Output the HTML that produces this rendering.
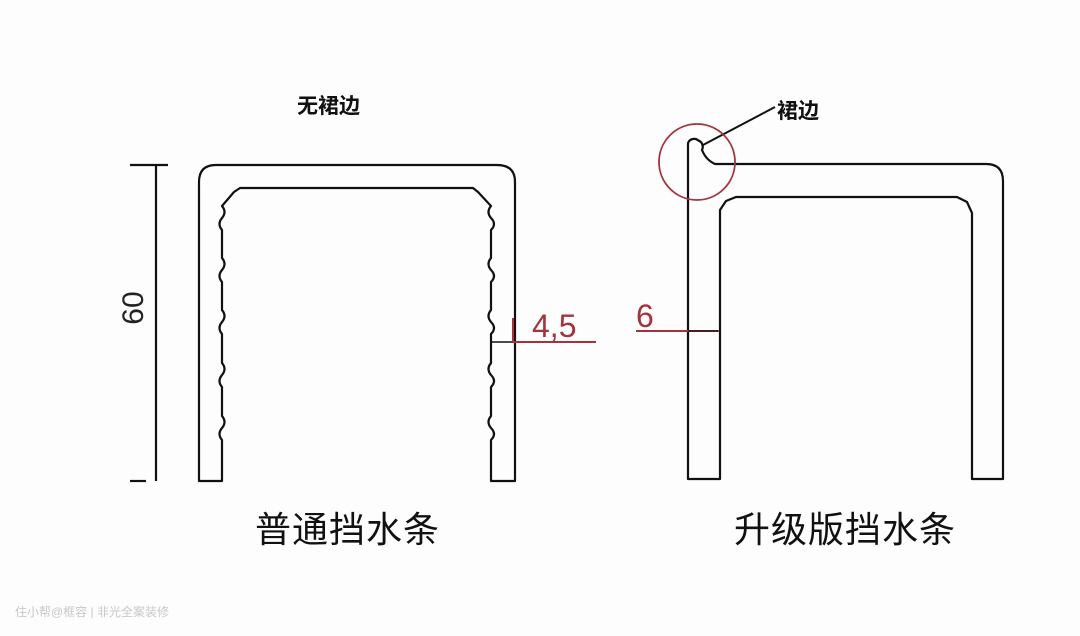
<!DOCTYPE html>
<html><head><meta charset="utf-8"><style>
html,body{margin:0;padding:0;background:#fdfdfd;}
svg{display:block;}
</style></head><body>
<svg width="1080" height="636" viewBox="0 0 1080 636" xmlns="http://www.w3.org/2000/svg">
<rect width="1080" height="636" fill="#fdfdfd"/>
<g fill="none" stroke="#111" stroke-width="2.2" stroke-linejoin="round">
<!-- left profile outer -->
<path d="M199,481 L199,182 Q199,165 216,165 L497,165 Q515,165 515,182 L515,481 L491,481 L491,440
 Q497,434 491,428 Q486,422 491,416 L491,387 Q497,381 491,375 Q486,369 491,363 L491,334 Q497,328 491,322 Q486,316 491,310 L491,282 Q497,276 491,270 Q486,264 491,258 L491,230 Q497,224 491,218 Q486,212 491,206 L478,192 L473,188 L240,188 L234,192 L222,206
 Q227,212 222,218 Q217,224 222,230 L222,258 Q227,264 222,270 Q217,276 222,282 L222,310 Q227,316 222,322 Q217,328 222,334 L222,363 Q227,369 222,375 Q217,381 222,387 L222,416 Q227,422 222,428 Q217,434 222,440 L222,481 Z"/>
<!-- dimension 60 -->
<line x1="156" y1="165" x2="156" y2="481"/>
<line x1="130" y1="165" x2="168" y2="165"/>
<line x1="130" y1="481" x2="146" y2="481"/>
<line x1="491" y1="342" x2="513" y2="342" stroke-width="1.5"/>
<!-- right profile -->
<path d="M688,479 L688,143 Q690,138 696,139 L701,142 Q704,146 702,150 Q706,160 715,164 L986,164 Q1003,164 1003,181 L1003,479 L972,479 L972,213 L967,202 L957,197 L736,197 L726,201 L720,210 L720,479 Z"/>
<line x1="703" y1="145" x2="775" y2="107" stroke-width="2"/>
</g>
<circle cx="697" cy="162" r="38" fill="none" stroke="#a3343f" stroke-width="1.8"/>
<text x="152" y="323" font-family="Liberation Sans, sans-serif" font-size="30" fill="#222" transform="rotate(-90 140 320)" text-anchor="middle">60</text>
<g stroke="#a3343f" stroke-width="2">
<line x1="513" y1="318" x2="513" y2="342"/>
<line x1="513" y1="342" x2="596" y2="342"/>
<line x1="636" y1="331" x2="718" y2="331"/>
</g>
<line x1="688" y1="331" x2="720" y2="331" stroke="#111" stroke-width="1.2"/>
<text x="532" y="337" font-family="Liberation Sans, sans-serif" font-size="32" fill="#a3343f">4,5</text>
<text x="636" y="327" font-family="Liberation Sans, sans-serif" font-size="32" fill="#a3343f">6</text>
<text x="297" y="113" font-family="Liberation Sans, 'Noto Sans CJK SC', sans-serif" font-size="21" font-weight="bold" fill="#111">无裙边</text>
<text x="777" y="118" font-family="Liberation Sans, 'Noto Sans CJK SC', sans-serif" font-size="21" font-weight="bold" fill="#111">裙边</text>
<text x="255" y="542" font-family="Liberation Sans, 'Noto Sans CJK SC', sans-serif" font-size="36" fill="#111" letter-spacing="1">普通挡水条</text>
<text x="734" y="542" font-family="Liberation Sans, 'Noto Sans CJK SC', sans-serif" font-size="36" fill="#111" letter-spacing="1">升级版挡水条</text>
<text x="15" y="616" font-family="Liberation Sans, 'Noto Sans CJK SC', sans-serif" font-size="12" fill="#c8c8c8">住小帮@框容 | 非光全案装修</text>
</svg>
</body></html>
